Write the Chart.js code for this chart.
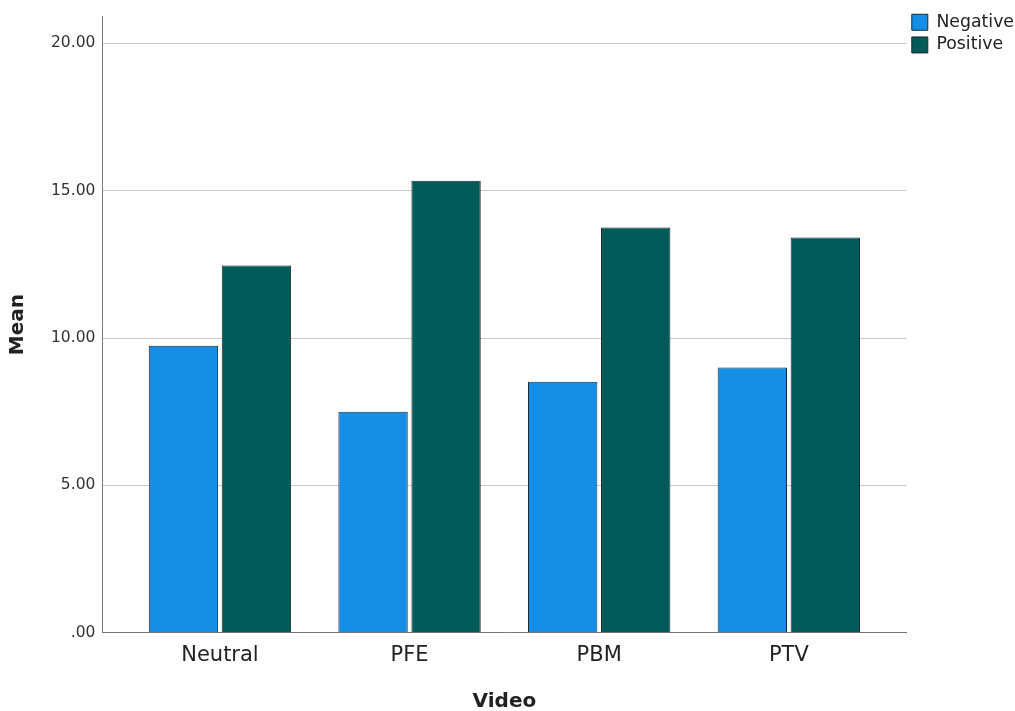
<!DOCTYPE html>
<html>
<head>
<meta charset="utf-8">
<script src="https://cdn.jsdelivr.net/npm/chart.js@4/dist/chart.umd.min.js"></script>
<style>
  body { margin: 0; background: #fff; }
  #wrap { width: 1015px; height: 711px; }
</style>
</head>
<body>
<div id="wrap"><canvas id="myChart"></canvas></div>
<script>
// dados do gráfico
var categorias = ['Neutral', 'PFE', 'PBM', 'PTV'];
var mediaNegativo = [9.74, 7.50, 8.52, 9.00];
var mediaPositivo = [12.46, 15.34, 13.75, 13.41];
var ticksY = [0, 5, 10, 15, 20];

var fonte = "'DejaVu Sans', sans-serif";

// eixo x linear para deixar a folga nas pontas como no original
function pontos(valores) {
    return valores.map(function(v, i) { return { x: i, y: v }; });
}

var ctx = document.getElementById('myChart').getContext('2d');
var myChart = new Chart(ctx, {
    type: 'bar',
    data: {
        datasets: [{
            label: 'Negative',
            data: pontos(mediaNegativo),
            backgroundColor: '#168ee6',
            borderColor: '#1e2a30',
            borderWidth: 1
        }, {
            label: 'Positive',
            data: pontos(mediaPositivo),
            backgroundColor: '#015b59',
            borderColor: '#1e2a30',
            borderWidth: 1
        }]
    },
    options: {
        responsive: true,
        maintainAspectRatio: false,
        animation: false,
        categoryPercentage: 0.77,
        barPercentage: 0.95,
        layout: { padding: { top: -4, left: 6, bottom: -3, right: -9 } },
        plugins: {
            tooltip: { enabled: false },
            legend: {
                position: 'right',
                align: 'start',
                // título vazio só para empurrar a legenda pra baixo
                title: { display: true, text: '', font: { size: 1 }, padding: { top: 11, bottom: 0 } },
                labels: {
                    boxWidth: 16,
                    boxHeight: 16,
                    padding: 5.4,
                    color: '#222',
                    font: { family: fonte, size: 17.3 }
                }
            }
        },
        scales: {
            x: {
                type: 'linear',
                offset: false,
                min: -0.62,
                max: 3.62,
                afterBuildTicks: function(scale) {
                    scale.ticks = categorias.map(function(c, i) { return { value: i }; });
                },
                ticks: {
                    color: '#222',
                    padding: 10,
                    font: { family: fonte, size: 21 },
                    callback: function(value) { return categorias[value]; }
                },
                grid: { display: false, drawTicks: false },
                border: { display: true, color: '#777', width: 1 },
                title: {
                    display: true,
                    text: 'Video',
                    color: '#222',
                    font: { family: fonte, size: 20, weight: 'bold' },
                    padding: { top: 12, bottom: 0 }
                }
            },
            y: {
                min: 0,
                max: 20.92,
                afterBuildTicks: function(scale) {
                    scale.ticks = ticksY.map(function(v) { return { value: v }; });
                },
                ticks: {
                    color: '#333',
                    padding: 7,
                    font: { family: fonte, size: 15.5 },
                    callback: function(value) {
                        return value === 0 ? '.00' : value.toFixed(2);
                    }
                },
                grid: { color: '#c8c8c8', drawTicks: false },
                border: { display: true, color: '#777', width: 1 },
                title: {
                    display: true,
                    text: 'Mean',
                    color: '#222',
                    font: { family: fonte, size: 20, weight: 'bold' },
                    padding: { top: 0, bottom: 14 }
                }
            }
        }
    }
});
</script>
</body>
</html>
